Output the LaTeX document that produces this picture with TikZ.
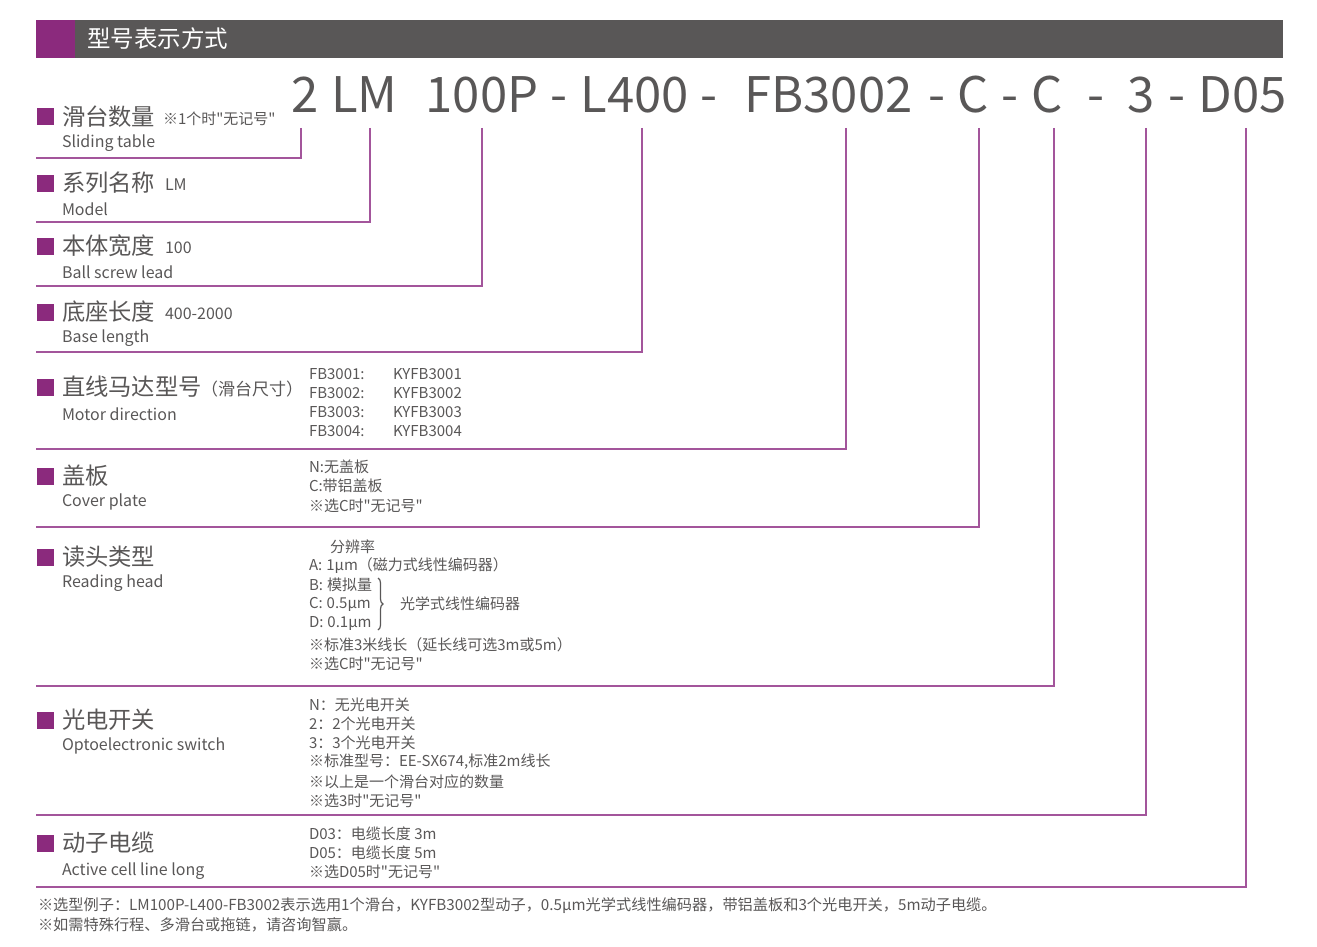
\documentclass[tikz,border=0pt]{standalone}
\usepackage{fontspec}
\setmainfont{Noto Sans CJK SC}[Ligatures=TeXOff]
\usetikzlibrary{decorations.pathreplacing}
\definecolor{pp}{RGB}{139,42,125}
\definecolor{ln}{RGB}{163,85,155}
\definecolor{tx}{RGB}{89,87,87}
\newcommand\cln{:\kern4pt}
\begin{document}
\begin{tikzpicture}[x=1pt,y=-1pt,
  every node/.style={inner sep=0pt, outer sep=0pt, text=tx},
  code/.style={anchor=base, font=\fontsize{49}{49}\selectfont},
  ttl/.style={anchor=west, font=\fontsize{23.3}{23.3}\selectfont},
  eng/.style={anchor=west, font=\fontsize{16}{16}\selectfont},
  sml/.style={anchor=west, font=\fontsize{16}{16}\selectfont},
  opt/.style={anchor=west, font=\fontsize{15}{15}\selectfont},
  bul/.style={fill=pp, minimum size=17pt, anchor=center},
  conn/.style={draw=ln, line width=1.5pt}]
\useasboundingbox (0,0) rectangle (1317,947);
% header
\fill[tx] (36,20) rectangle (1283,58);
\fill[pp] (36,20) rectangle (75,58);
\node[anchor=west, text=white, font=\fontsize{23.5}{23.5}\selectfont] (hdr) at (87,39) {型号表示方式};
% code string
\node[code] (k1) at (305,113) {2};
\node[code] (k2) at (364.5,113) {LM};
\node[code] (k3) at (482,113) {100P};
\node[code] (d1) at (558.5,113) {-};
\node[code] (k4) at (634.5,113) {L400};
\node[code] (d2) at (708.5,113) {-};
\node[code] (k5) at (828.5,113) {FB3002};
\node[code] (d3) at (936.5,113) {-};
\node[code] (k6) at (973.5,113) {C};
\node[code] (d4) at (1010,113) {-};
\node[code] (k7) at (1047.5,113) {C};
\node[code] (d5) at (1096,113) {-};
\node[code] (k8) at (1141.5,113) {3};
\node[code] (d6) at (1176.5,113) {-};
\node[code] (k9) at (1242.5,113) {D05};
% connector coordinates
\coordinate (c1) at (301,128); \coordinate (e1) at (36,158);
\coordinate (c2) at (370,128); \coordinate (e2) at (36,222);
\coordinate (c3) at (482,128); \coordinate (e3) at (36,286);
\coordinate (c4) at (642,128); \coordinate (e4) at (36,352);
\coordinate (c5) at (846,128); \coordinate (e5) at (36,449);
\coordinate (c6) at (979,128); \coordinate (e6) at (36,527);
\coordinate (c7) at (1054,128); \coordinate (e7) at (36,686);
\coordinate (c8) at (1146,128); \coordinate (e8) at (36,815);
\coordinate (c9) at (1246,128); \coordinate (e9) at (36,887);
\foreach \i in {1,...,9} {\draw[conn] (c\i) |- (e\i);}
% section 1
\node[bul] (b1) at (45.5,117) {};
\node[ttl] (t1) at (62,117) {滑台数量};
\node[anchor=west, font=\fontsize{15}{15}\selectfont] (s1) at (163,119) {※1个时"无记号"};
\node[eng] (g1) at (62,143) {Sliding table};
% section 2
\node[bul] (b2) at (45.5,183) {};
\node[ttl] (t2) at (62,183) {系列名称};
\node[sml] (s2) at (165,185) {LM};
\node[eng] (g2) at (62,209) {Model};
% section 3
\node[bul] (b3) at (45.5,246) {};
\node[ttl] (t3) at (62,246) {本体宽度};
\node[sml] (s3) at (165,248) {100};
\node[eng] (g3) at (62,272) {Ball screw lead};
% section 4
\node[bul] (b4) at (45.5,312) {};
\node[ttl] (t4) at (62,312) {底座长度};
\node[sml] (s4) at (165,314) {400-2000};
\node[eng] (g4) at (62,338) {Base length};
% section 5
\node[bul] (b5) at (45.5,387) {};
\node[ttl] (t5) at (62,387) {直线马达型号};
\node[anchor=west, font=\fontsize{17}{17}\selectfont] (s5) at (201,389) {（滑台尺寸）};
\node[eng] (g5) at (62,414) {Motor direction};
\node[opt] (o51) at (309,374) {FB3001:};
\node[opt] (o52) at (309,393) {FB3002:};
\node[opt] (o53) at (309,412) {FB3003:};
\node[opt] (o54) at (309,431) {FB3004:};
\node[opt] (p51) at (393,374) {KYFB3001};
\node[opt] (p52) at (393,393) {KYFB3002};
\node[opt] (p53) at (393,412) {KYFB3003};
\node[opt] (p54) at (393,431) {KYFB3004};
% section 6
\node[bul] (b6) at (45.5,476) {};
\node[ttl] (t6) at (62,476) {盖板};
\node[eng] (g6) at (62,502) {Cover plate};
\node[opt] (o61) at (309,467) {N:无盖板};
\node[opt] (o62) at (309,486) {C:带铝盖板};
\node[opt] (o63) at (309,506) {※选C时"无记号"};
% section 7
\node[bul] (b7) at (45.5,557) {};
\node[ttl] (t7) at (62,557) {读头类型};
\node[eng] (g7) at (62,583) {Reading head};
\node[opt] (o70) at (330,547) {分辨率};
\node[opt] (o71) at (309,566) {A\cln 1μm（磁力式线性编码器）};
\node[opt] (o72) at (309,585) {B\cln 模拟量};
\node[opt] (o73) at (309,604) {C\cln 0.5μm};
\node[opt] (o74) at (309,623) {D\cln 0.1μm};
\draw[tx, line width=1.2pt, decorate, decoration={brace, amplitude=5pt}] (378,578) -- (378,630);
\node[opt] (o75) at (400,604) {光学式线性编码器};
\node[opt] (o76) at (309,645) {※标准3米线长（延长线可选3m或5m）};
\node[opt] (o77) at (309,664) {※选C时"无记号"};
% section 8
\node[bul] (b8) at (45.5,720) {};
\node[ttl] (t8) at (62,720) {光电开关};
\node[eng] (g8) at (62,746) {Optoelectronic switch};
\node[opt] (o81) at (309,705) {N：无光电开关};
\node[opt] (o82) at (309,724) {2：2个光电开关};
\node[opt] (o83) at (309,743) {3：3个光电开关};
\node[opt] (o84) at (309,762) {※标准型号：EE-SX674,标准2m线长};
\node[opt] (o85) at (309,782) {※以上是一个滑台对应的数量};
\node[opt] (o86) at (309,801) {※选3时"无记号"};
% section 9
\node[bul] (b9) at (45.5,843) {};
\node[ttl] (t9) at (62,843) {动子电缆};
\node[eng] (g9) at (62,871) {Active cell line long};
\node[opt] (o91) at (309,834) {D03：电缆长度 3m};
\node[opt] (o92) at (309,853) {D05：电缆长度 5m};
\node[opt] (o93) at (309,872) {※选D05时"无记号"};
% footer
\node[anchor=west, font=\fontsize{15.2}{15.2}\selectfont] (f1) at (38,906) {※选型例子：LM100P-L400-FB3002表示选用1个滑台，KYFB3002型动子，0.5μm光学式线性编码器，带铝盖板和3个光电开关，5m动子电缆。};
\node[anchor=west, font=\fontsize{15.2}{15.2}\selectfont] (f2) at (38,925) {※如需特殊行程、多滑台或拖链，请咨询智赢。};
\end{tikzpicture}
\end{document}
